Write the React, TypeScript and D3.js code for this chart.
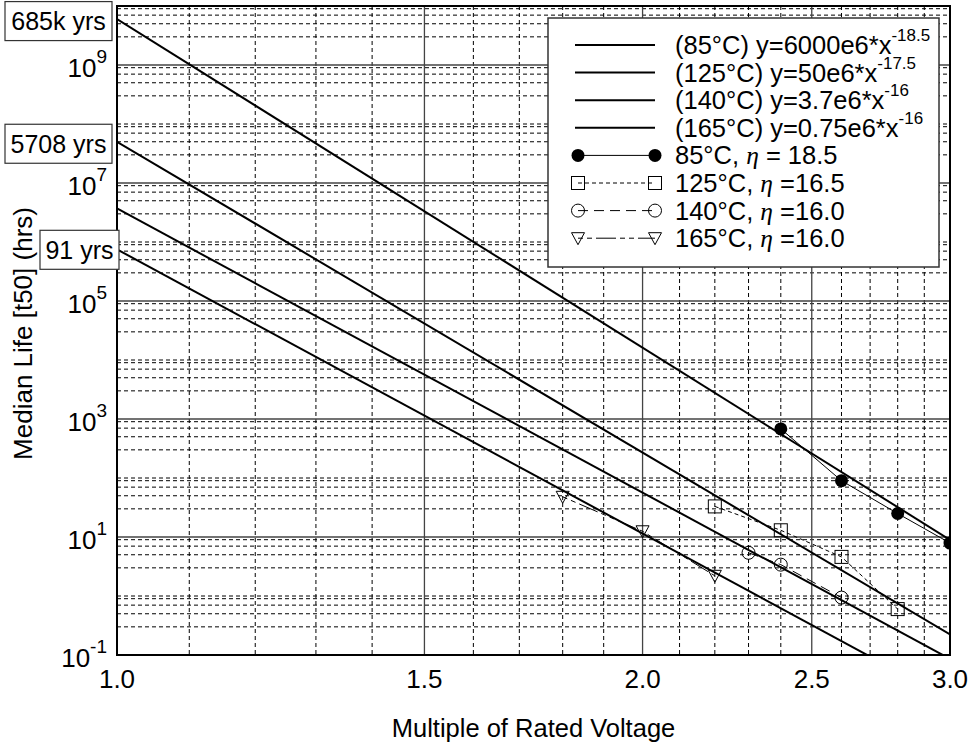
import React from "react";
import * as d3 from "d3";

// x axis: multiple of rated voltage (log), y axis: median life in hours (log)
const xTickValues = [1.0, 1.5, 2.0, 2.5, 3.0];
const xMinorValues = [1.1, 1.2, 1.3, 1.4, 1.6, 1.7, 1.8, 1.9, 2.1, 2.2, 2.3, 2.4, 2.6, 2.7, 2.8, 2.9];
const yTickExponents = [-1, 1, 3, 5, 7, 9];
const yMinorMultiples = [3, 5, 7, 9];

// power-law fits  y = A * x^n
const fitLabels = ["(85°C) y=6000e6*x", "(125°C) y=50e6*x", "(140°C) y=3.7e6*x", "(165°C) y=0.75e6*x"];
const fitSup = ["-18.5", "-17.5", "-16", "-16"];
const fitA = [6000e6, 50e6, 3.7e6, 0.75e6];
const fitN = [-18.5, -17.5, -16, -16];

// measured points
const v85 = [2.4, 2.6, 2.8, 3.0];
const life85 = [680, 90, 25, 7.9];
const v125 = [2.2, 2.4, 2.6, 2.8];
const life125 = [33, 13, 4.6, 0.6];
const v140 = [2.3, 2.4, 2.6];
const life140 = [5.4, 3.4, 0.94];
const v165 = [1.8, 2.0, 2.2];
const life165 = [48, 12.5, 2.2];

const seriesNames = ["85°C, ", "125°C, ", "140°C, ", "165°C, "];
const seriesEta = [" = 18.5", " =16.5", " =16.0", " =16.0"];

// year annotations on the left
const yearLabels = ["685k yrs", "5708 yrs", "91 yrs"];
const yearValues = [685000, 5708, 91];

const W = 971;
const H = 743;
const margin = { top: 6, right: 21, bottom: 88, left: 117 };
const font = "'Liberation Sans', Arial, Helvetica, sans-serif";

const x = d3.scaleLog().domain([1, 3]).range([margin.left, W - margin.right]);
const y = d3.scaleLog().domain([0.1, 1e10]).range([H - margin.bottom, margin.top]);

const dashes = ["", "4,3", "10,6", "5,4,5,4,20,4"];

const Marker = ({ kind, cx, cy }: { kind: number; cx: number; cy: number }) => {
  if (kind === 0) return <circle cx={cx} cy={cy} r={6.5} fill="#000" />;
  if (kind === 1)
    return <rect x={cx - 6.5} y={cy - 6.5} width={13} height={13} fill="none" stroke="#000" strokeWidth={1} />;
  if (kind === 2) return <circle cx={cx} cy={cy} r={6.5} fill="none" stroke="#000" strokeWidth={1} />;
  return (
    <path
      d={`M${cx - 6.5},${cy - 5.5}L${cx + 6.5},${cy - 5.5}L${cx},${cy + 6.5}Z`}
      fill="none"
      stroke="#000"
      strokeWidth={1}
    />
  );
};

export default function App() {
  const [x0, x1] = x.range();
  const [yb, yt] = y.range();

  const hLines: { v: number; major: boolean }[] = [];
  for (let e = -1; e <= 9; e++) {
    hLines.push({ v: Math.pow(10, e), major: e % 2 !== 0 });
    yMinorMultiples.forEach((m) => hLines.push({ v: m * Math.pow(10, e), major: false }));
  }

  const series = [
    { xs: v85, ys: life85 },
    { xs: v125, ys: life125 },
    { xs: v140, ys: life140 },
    { xs: v165, ys: life165 },
  ];
  const line = d3
    .line<[number, number]>()
    .x((d) => x(d[0]))
    .y((d) => y(d[1]));

  const xd = x.domain();
  const legX = 548;
  const legY = 18;
  const rowH = 27.6;

  return (
    <svg width={W} height={H} style={{ position: "absolute", left: 0, top: 0, background: "#fff" }} fontFamily={font}>
      <defs>
        <clipPath id="plot">
          <rect x={x0} y={yt} width={x1 - x0} height={yb - yt} />
        </clipPath>
      </defs>
      <rect x={0} y={0} width={W} height={H} fill="#fff" />

      {/* grid */}
      {xMinorValues.map((v) => (
        <line key={"xm" + v} x1={x(v)} x2={x(v)} y1={yt} y2={yb} stroke="#000" strokeWidth={1} strokeDasharray="4,3" />
      ))}
      {hLines
        .filter((d) => !d.major)
        .map((d, i) => (
          <line
            key={"hm" + i}
            x1={x0}
            x2={x1}
            y1={y(d.v)}
            y2={y(d.v)}
            stroke="#000"
            strokeWidth={1}
            strokeDasharray="4,3"
          />
        ))}
      {hLines
        .filter((d) => d.major)
        .map((d, i) => (
          <line key={"hM" + i} x1={x0} x2={x1} y1={y(d.v)} y2={y(d.v)} stroke="#444" strokeWidth={1.3} />
        ))}
      {xTickValues.map((v) => (
        <line key={"xM" + v} x1={x(v)} x2={x(v)} y1={yt} y2={yb} stroke="#444" strokeWidth={1.3} />
      ))}

      {/* fits and data */}
      <g clipPath="url(#plot)">
        {fitA.map((a, i) => (
          <path
            key={"fit" + i}
            d={line(xd.map((v) => [v, a * Math.pow(v, fitN[i])]) as [number, number][]) || ""}
            fill="none"
            stroke="#000"
            strokeWidth={2}
          />
        ))}
        {series.map((s, i) => (
          <g key={"s" + i}>
            <path
              d={line(s.xs.map((v, j) => [v, s.ys[j]]) as [number, number][]) || ""}
              fill="none"
              stroke="#000"
              strokeWidth={1}
              strokeDasharray={dashes[i]}
            />
            {s.xs.map((v, j) => (
              <Marker key={j} kind={i} cx={x(v)} cy={y(s.ys[j])} />
            ))}
          </g>
        ))}
      </g>

      {/* frame */}
      <rect x={x0} y={yt} width={x1 - x0} height={yb - yt} fill="none" stroke="#000" strokeWidth={2} />

      {/* tick labels */}
      {xTickValues.map((v) => (
        <text key={"xt" + v} x={x(v)} y={yb + 33} textAnchor="middle" fontSize={26}>
          {d3.format(".1f")(v)}
        </text>
      ))}
      {yTickExponents.map((e) => (
        <text key={"yt" + e} x={107} y={y(Math.pow(10, e)) + 12} textAnchor="end" fontSize={26}>
          10
          <tspan fontSize={19} dy={-14}>
            {e}
          </tspan>
        </text>
      ))}

      {/* axis titles */}
      <text x={(x0 + x1) / 2} y={H - 6} textAnchor="middle" fontSize={25.5}>
        Multiple of Rated Voltage
      </text>
      <text transform={`translate(32,${(yt + yb) / 2 + 3}) rotate(-90)`} textAnchor="middle" fontSize={26}>
        Median Life [t50] (hrs)
      </text>

      {/* year boxes */}
      {yearLabels.map((lab, i) => {
        const cy = y(yearValues[i] * 8760) + 2;
        const w = i === 2 ? 79 : 107;
        const right = i === 2 ? 119 : 112;
        return (
          <g key={"yr" + i}>
            <rect x={right - w} y={cy - 19.5} width={w} height={39} fill="#fff" stroke="#333" strokeWidth={1.2} />
            <text x={right - w / 2} y={cy + 9} textAnchor="middle" fontSize={25}>
              {lab}
            </text>
          </g>
        );
      })}

      {/* legend */}
      <rect x={legX} y={legY} width={391} height={249} fill="#fff" stroke="#333" strokeWidth={1.5} />
      {fitLabels.map((lab, i) => {
        const cy = legY + 27 + i * rowH;
        return (
          <g key={"lf" + i}>
            <line x1={575} x2={655} y1={cy} y2={cy} stroke="#000" strokeWidth={2} />
            <text x={675} y={cy + 9} fontSize={25.5}>
              {lab}
              <tspan fontSize={17} dy={-13}>
                {fitSup[i]}
              </tspan>
            </text>
          </g>
        );
      })}
      {seriesNames.map((lab, i) => {
        const cy = legY + 27 + (i + 4) * rowH;
        return (
          <g key={"ls" + i}>
            <line x1={578} x2={655} y1={cy} y2={cy} stroke="#000" strokeWidth={1} strokeDasharray={dashes[i]} />
            <Marker kind={i} cx={578} cy={cy} />
            <Marker kind={i} cx={655} cy={cy} />
            <text x={675} y={cy + 9} fontSize={25.5}>
              {lab}
              <tspan fontFamily="'Liberation Serif', 'Times New Roman', serif" fontStyle="italic">
                η
              </tspan>
              {seriesEta[i]}
            </text>
          </g>
        );
      })}
    </svg>
  );
}
